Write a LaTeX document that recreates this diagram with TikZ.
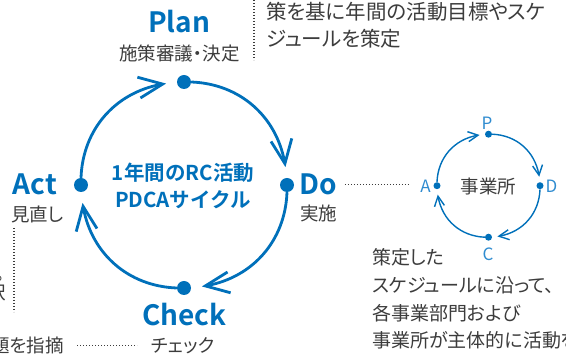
\documentclass[tikz,border=0pt]{standalone}
\usepackage{fontspec}
\setmainfont{Noto Sans CJK JP}[BoldFont={Noto Sans CJK JP Bold}]
\newfontfamily\jpp{Noto Sans CJK JP}[RawFeature=+palt]
\usetikzlibrary{arrows.meta,bending,calc}
\definecolor{pblue}{RGB}{0,112,186}
\definecolor{lblue}{RGB}{48,140,208}
\definecolor{tgray}{RGB}{60,60,60}
\definecolor{dgray}{RGB}{60,60,60}
\begin{document}
\begin{tikzpicture}[x=1pt,y=1pt,
  bigdot/.style={circle,fill=pblue,inner sep=0pt,minimum size=14pt},
  smalldot/.style={circle,fill=pblue,inner sep=0pt,minimum size=7pt},
  bigarc/.style={line width=2.8pt,draw=pblue,-{Straight Barb[length=24pt,width=21pt]}},
  smallarc/.style={line width=1.4pt,draw=pblue,-{Straight Barb[length=10pt,width=10pt]}},
  dotline/.style={draw=dgray,line width=1.3pt,dash pattern=on 1.3pt off 1.7pt},
  head/.style={font=\fontsize{28}{30}\selectfont\bfseries,text=pblue,inner sep=0pt},
  centxt/.style={font=\fontsize{20.5}{22}\selectfont\bfseries,text=pblue,inner sep=0pt},
  lab/.style={font=\jpp\fontsize{18.5}{20}\selectfont,text=tgray,inner sep=0pt},
  toptxt/.style={font=\jpp\fontsize{20.5}{22}\selectfont,text=tgray,inner sep=0pt},
  bottxt/.style={font=\jpp\fontsize{19}{20}\selectfont,text=tgray,inner sep=0pt},
  pdca/.style={font=\fontsize{17}{18}\selectfont,text=lblue,inner sep=0pt}
]
\useasboundingbox (0,0) rectangle (566,356);
\clip (0,0) rectangle (566,356);

% ---- big cycle ----
\coordinate (cen) at (184,171);
\node[bigdot] (dP) at ($(cen)+(90:103)$) {};
\node[bigdot] (dD) at ($(cen)+(0:103)$) {};
\node[bigdot] (dC) at ($(cen)+(-90:103)$) {};
\node[bigdot] (dA) at ($(cen)+(180:103)$) {};
\coordinate (e1) at ($(cen)+(100:103)$);
\coordinate (e2) at ($(cen)+(10:103)$);
\coordinate (e3) at ($(cen)+(-80:103)$);
\coordinate (e4) at ($(cen)+(-170:103)$);
\draw[bigarc] (dA) to[bend left=40] (e1);
\draw[bigarc] (dP) to[bend left=40] (e2);
\draw[bigarc] (dD) to[bend left=40] (e3);
\draw[bigarc] (dC) to[bend left=40] (e4);

\node[centxt,anchor=base] (c1) at (183,175.4) {1年間のRC活動};
\node[centxt,anchor=base] (c2) at (183,148.4) {PDCAサイクル};

% ---- Plan ----
\node[head,anchor=base] (plan) at (179,323) {Plan};
\node[lab,anchor=base] (plansub) at (179.5,295.7) {施策審議・決定};
\coordinate (pv1) at (254,356);
\coordinate (pv2) at (254,296);
\draw[dotline] (pv1) -- (pv2);
\node[toptxt,anchor=base west] (pt1) at (266,336) {策を基に年間の活動目標やスケ};
\node[toptxt,anchor=base west] (pt2) at (266,309.5) {ジュールを策定};

% ---- Do ----
\node[head,anchor=base west] (do) at (299,161) {Do};
\node[lab,anchor=base west] (dosub) at (300,135.7) {実施};

% ---- Act ----
\node[head,anchor=base west] (act) at (12.5,161) {Act};
\node[lab,anchor=base west] (actsub) at (11,134.7) {見直し};
\coordinate (av1) at (14,128);
\coordinate (av2) at (14,44);
\draw[dotline] (av1) -- (av2);
\node[lab,anchor=base west] (lt1) at (-5,75.7) {。};
\node[lab,anchor=base east] (lt2) at (6,56.2) {択};

% ---- Check ----
\node[head,anchor=base] (check) at (184.5,30) {Check};
\node[lab,anchor=base] (checksub) at (183,3.5) {チェック};
\node[lab,anchor=base east] (shiteki) at (64,3.5) {題を指摘};
\coordinate (cde) at (137,10);
\draw[dotline,shorten <=13pt] (shiteki.east) -- (shiteki.east -| cde);

% ---- small cycle ----
\coordinate (scen) at (488.5,170.3);
\node[smalldot] (sP) at ($(scen)+(90:51.5)$) {};
\node[smalldot] (sD) at ($(scen)+(0:51.5)$) {};
\node[smalldot] (sC) at ($(scen)+(-90:51.5)$) {};
\node[smalldot] (sA) at ($(scen)+(180:51.5)$) {};
\coordinate (se1) at ($(scen)+(100:51.5)$);
\coordinate (se2) at ($(scen)+(10:51.5)$);
\coordinate (se3) at ($(scen)+(-80:51.5)$);
\coordinate (se4) at ($(scen)+(-170:51.5)$);
\draw[smallarc] (sA) to[bend left=40] (se1);
\draw[smallarc] (sP) to[bend left=40] (se2);
\draw[smallarc] (sD) to[bend left=40] (se3);
\draw[smallarc] (sC) to[bend left=40] (se4);
\node[pdca,anchor=base] (lP) at (487,226.7) {P};
\node[pdca,anchor=base west] (lD) at (545.5,163.3) {D};
\node[pdca,anchor=base] (lC) at (488,95.3) {C};
\node[pdca,anchor=base east] (lA) at (431,163.3) {A};
\node[lab,anchor=base] (jig) at (488.3,162.7) {事業所};
\draw[dotline,shorten <=8pt,shorten >=10pt] (do.east) -- (do.east -| lA.west);

% ---- bottom right text ----
\node[bottxt,anchor=base west] (b1) at (372,91.2) {策定した};
\node[bottxt,anchor=base west] (b2) at (372,63.4) {スケジュールに沿って、};
\node[bottxt,anchor=base west] (b3) at (372,35.4) {各事業部門および};
\node[bottxt,anchor=base west] (b4) at (372,8.4) {事業所が主体的に活動を};
\end{tikzpicture}
\end{document}
